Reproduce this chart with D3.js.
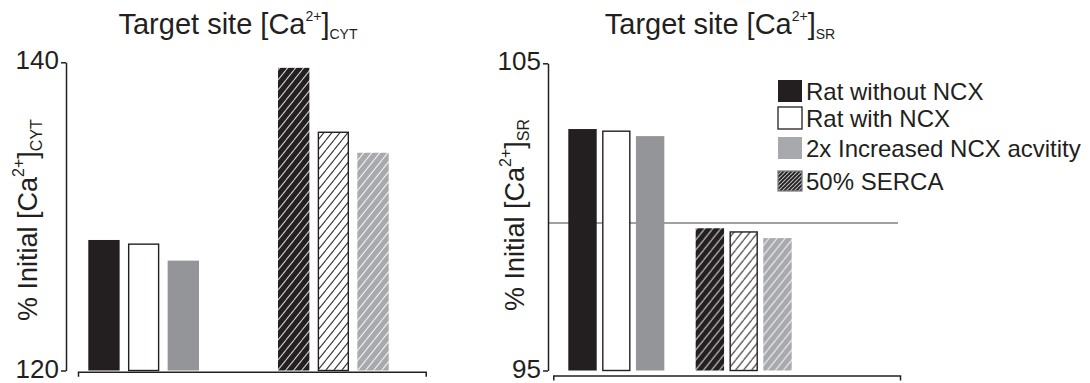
<!DOCTYPE html>
<html>
<head>
<meta charset="utf-8">
<script src="https://cdn.jsdelivr.net/npm/d3@7"></script>
<style>
  html, body { margin: 0; padding: 0; background: #fff; }
  svg { display: block; font-family: "Liberation Sans", Arial, sans-serif; }
</style>
</head>
<body>
<svg id="chart" width="1090" height="383"></svg>
<script>
// ---------------- data ----------------
const groups = ["Control", "50% SERCA"];
const series = ["Rat without NCX", "Rat with NCX", "2x Increased NCX acvitity"];
const legendLabels = ["Rat without NCX", "Rat with NCX", "2x Increased NCX acvitity", "50% SERCA"];

const cytControl = [128.47, 128.2, 127.13];
const cytSerca   = [139.64, 135.46, 134.13];
const srControl  = [102.86, 102.79, 102.63];
const srSerca    = [99.63, 99.51, 99.31];

const cytTicks = [120, 140];
const srTicks  = [95, 105];
const srReference = 99.8;

// ---------------- styling ----------------
const BLACK = "#231f20";
const GRAY = "#939598";
const LIGHTGRAY = "#a7a9ac";
const seriesFill = [BLACK, "#ffffff", GRAY];
const hatchFill = ["url(#hatchBlack)", "url(#hatchWhite)", "url(#hatchGray)"];
const seriesStroke = ["none", BLACK, "none"];

const svg = d3.select("#chart");
const defs = svg.append("defs");

function makeHatch(id, bg, line, w, h, opacity) {
  const p = defs.append("pattern")
    .attr("id", id)
    .attr("patternUnits", "userSpaceOnUse")
    .attr("width", w).attr("height", h);
  p.append("rect").attr("width", w).attr("height", h).attr("fill", bg);
  p.append("path")
    .attr("d", `M0,${h} L${w},0 M${-w},${h} L0,0 M${w},${h} L${2*w},0`)
    .attr("stroke", line).attr("stroke-width", 1.1).attr("stroke-opacity", opacity);
}
makeHatch("hatchBlack", BLACK, "#ffffff", 8, 10, 0.75);
makeHatch("hatchWhite", "#ffffff", BLACK, 8, 10, 0.9);
makeHatch("hatchGray", LIGHTGRAY, "#ffffff", 8, 10, 0.8);
makeHatch("hatchLegend", BLACK, "#ffffff", 4, 4, 0.7);

function panel(cfg) {
  const g = svg.append("g");
  const y = d3.scaleLinear().domain(cfg.domain).range(cfg.yRange);
  const x0 = d3.scaleBand().domain(groups).range(cfg.barRange)
    .paddingInner(cfg.groupPad).paddingOuter(0);
  const x1 = d3.scaleBand().domain(series).range([0, x0.bandwidth()])
    .paddingInner(cfg.barPad).paddingOuter(0);

  if (cfg.ref !== undefined) {
    g.append("line")
      .attr("x1", cfg.axisX).attr("x2", cfg.refEnd)
      .attr("y1", y(cfg.ref)).attr("y2", y(cfg.ref))
      .attr("stroke", "#808285").attr("stroke-width", 1.6);
  }

  const rows = [cfg.control, cfg.serca];
  groups.forEach((grp, gi) => {
    const gg = g.append("g").attr("transform", `translate(${x0(grp)},0)`);
    gg.selectAll("rect").data(rows[gi]).join("rect")
      .attr("x", (d, i) => x1(series[i]) + (seriesStroke[i] !== "none" ? 0.7 : 0))
      .attr("width", (d, i) => x1.bandwidth() - (seriesStroke[i] !== "none" ? 1.4 : 0))
      .attr("y", d => y(d))
      .attr("height", d => y(cfg.domain[0]) - y(d))
      .attr("fill", (d, i) => gi === 0 ? seriesFill[i] : hatchFill[i])
      .attr("stroke", (d, i) => seriesStroke[i])
      .attr("stroke-width", 1.4);
  });

  const yAxis = d3.axisLeft(y).tickValues(cfg.ticks).tickSize(5).tickSizeOuter(0).tickPadding(2)
    .tickFormat(d3.format("d"));
  const ya = g.append("g").attr("transform", `translate(${cfg.axisX},0)`).call(yAxis);
  ya.select(".domain").attr("stroke", BLACK).attr("stroke-width", 1.5);
  ya.selectAll(".tick line").attr("stroke", BLACK).attr("stroke-width", 1.5);
  ya.selectAll(".tick text").attr("font-size", 26).attr("fill", BLACK).attr("dy", "0.25em")
    .attr("font-family", "Liberation Sans, Arial, sans-serif");

  const xf = d3.scaleLinear().domain([0, 1]).range(cfg.xAxisRange);
  const xa = g.append("g").attr("transform", `translate(0,${cfg.xAxisY})`)
    .call(d3.axisBottom(xf).tickValues([]).tickSizeOuter(5));
  xa.select(".domain").attr("stroke", BLACK).attr("stroke-width", 1.5);

  const t = g.append("text").attr("x", cfg.titleX).attr("y", 34)
    .attr("text-anchor", "middle").attr("font-size", 29).attr("fill", BLACK);
  t.append("tspan").text("Target site [Ca");
  t.append("tspan").attr("font-size", 14).attr("dy", -13).text("2+");
  t.append("tspan").attr("dy", 13).text("]");
  t.append("tspan").attr("font-size", 14).attr("dy", 5).text(cfg.sub);

  const yl = g.append("text")
    .attr("transform", `translate(${cfg.labelX},${cfg.labelY}) rotate(-90)`)
    .attr("font-size", 27).attr("fill", BLACK).attr("text-anchor", "start");
  yl.append("tspan").text("% Initial [Ca");
  yl.append("tspan").attr("font-size", 16).attr("dy", -13).text("2+");
  yl.append("tspan").attr("dy", 13).text("]");
  yl.append("tspan").attr("font-size", 16).attr("dy", 5).text(cfg.sub);
}

panel({
  domain: [120, 140], ticks: cytTicks, yRange: [370.5, 62.3],
  barRange: [88.3, 388.7], groupPad: 0.4165, barPad: 0.21,
  control: cytControl, serca: cytSerca,
  axisX: 66, xAxisRange: [78, 425.7], xAxisY: 371.7,
  titleX: 238, sub: "CYT", labelX: 37, labelY: 321
});

panel({
  domain: [95, 105], ticks: srTicks, yRange: [370.5, 63.3],
  barRange: [568.3, 791.7], groupPad: 0.246, barPad: 0.16,
  control: srControl, serca: srSerca,
  axisX: 548, xAxisRange: [553.3, 900], xAxisY: 375.5,
  ref: srReference, refEnd: 898,
  titleX: 720, sub: "SR", labelX: 524, labelY: 311
});

const legendFills = [BLACK, "#ffffff", LIGHTGRAY, "url(#hatchLegend)"];
const legendStrokes = ["none", BLACK, "none", "#808285"];
const legendY = [80, 107, 137, 171];
const lg = svg.append("g");
legendLabels.forEach((lab, i) => {
  const row = lg.append("g").attr("transform", `translate(778,${legendY[i]})`);
  row.append("rect").attr("width", 24).attr("height", i === 3 ? 20 : 22)
    .attr("fill", legendFills[i]).attr("stroke", legendStrokes[i]).attr("stroke-width", 1.3);
  row.append("text").attr("x", 28).attr("y", i === 3 ? 19 : 20)
    .attr("font-size", 24).attr("fill", BLACK).text(lab);
});
</script>
</body>
</html>
